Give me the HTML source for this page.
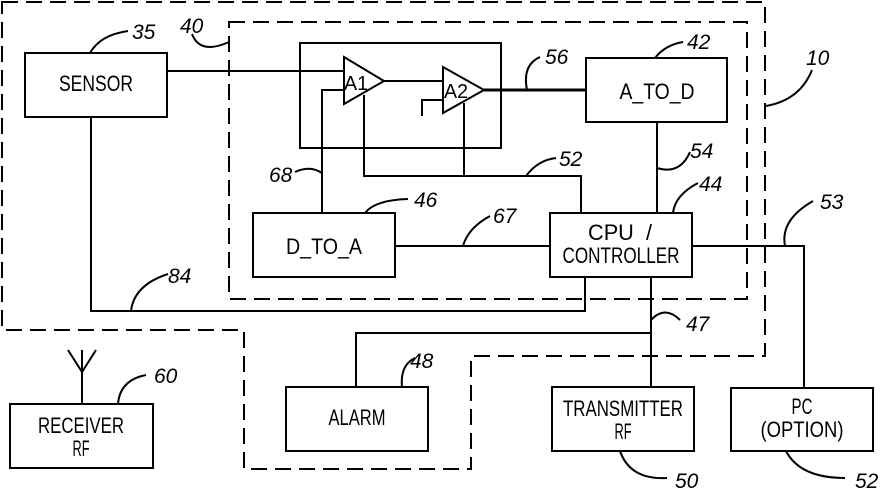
<!DOCTYPE html>
<html><head><meta charset="utf-8"><style>
body{margin:0;background:#fff}
svg{display:block}
</style></head><body>
<svg width="882" height="488" viewBox="0 0 882 488" xmlns="http://www.w3.org/2000/svg">
<g fill="none" stroke="#000" stroke-width="2">
<path d="M2 2 H765 V356 H471 V469 H244 V330 H2 Z" stroke-dasharray="16 8"/>
<path d="M229 22 H747 V299 H229 Z" stroke-dasharray="16 8"/>
<rect x="25" y="53" width="142" height="64"/>
<rect x="300" y="43" width="201" height="105"/>
<rect x="586" y="58" width="141" height="64"/>
<rect x="253" y="213" width="142" height="64"/>
<rect x="550" y="213" width="142" height="64"/>
<rect x="286" y="387" width="142" height="64"/>
<rect x="552" y="387" width="142" height="64"/>
<rect x="731" y="388" width="142" height="63"/>
<rect x="10" y="404" width="143" height="64"/>
<path d="M344 57 L384 81 L344 104 Z"/>
<path d="M443 67 L484 90 L443 113 Z"/>
<path d="M167 71 H344"/>
<path d="M384 81 H443"/>
<path d="M422 116 V100 H443"/>
<path d="M484 90 H586" stroke-width="3"/>
<path d="M344 90 H322 V213"/>
<path d="M364 95 V176 H581 V213"/>
<path d="M464 103 V176"/>
<path d="M657 122 V213"/>
<path d="M395 246 H550"/>
<path d="M692 246 H804 V388"/>
<path d="M91 117 V311 H585 V277"/>
<path d="M651 277 V387"/>
<path d="M651 333 H356 V387"/>
<path d="M82 350 V404 M68 350 L82 372 L96 350"/>
<path d="M90 53 Q100 35 128 31"/>
<path d="M229 42 Q200 55 192 34"/>
<path d="M527 90 Q522 65 540 57"/>
<path d="M655 58 Q665 45 683 42"/>
<path d="M766 106 Q800 100 812 70"/>
<path d="M322 173 Q310 165 295 172"/>
<path d="M365 213 Q375 200 408 199"/>
<path d="M526 176 Q538 160 556 158"/>
<path d="M657 168 Q680 175 690 152"/>
<path d="M673 213 Q675 195 698 183"/>
<path d="M463 246 Q468 228 490 216"/>
<path d="M785 246 Q780 220 813 201"/>
<path d="M131 311 Q134 285 168 274"/>
<path d="M651 320 Q665 305 680 320"/>
<path d="M402 387 Q400 365 415 358"/>
<path d="M118 404 Q120 380 146 375"/>
<path d="M620 451 Q630 480 667 478"/>
<path d="M786 451 Q800 478 845 478"/>
</g>
<g font-family="Liberation Sans, sans-serif" font-size="22" text-anchor="middle" fill="#000">
<text x="96" y="91" style="font-size:22px" textLength="74" lengthAdjust="spacingAndGlyphs">SENSOR</text>
<text x="356" y="90" style="font-size:20px" textLength="24" lengthAdjust="spacingAndGlyphs">A1</text>
<text x="456" y="98" style="font-size:20px" textLength="24" lengthAdjust="spacingAndGlyphs">A2</text>
<text x="657" y="99" style="font-size:22px" textLength="75" lengthAdjust="spacingAndGlyphs">A_TO_D</text>
<text x="324" y="254" style="font-size:22px" textLength="76" lengthAdjust="spacingAndGlyphs">D_TO_A</text>
<text x="620" y="240" style="font-size:22px" textLength="64" lengthAdjust="spacingAndGlyphs" xml:space="preserve">CPU  /</text>
<text x="621" y="263" style="font-size:22px" textLength="117" lengthAdjust="spacingAndGlyphs">CONTROLLER</text>
<text x="357" y="425" style="font-size:22px" textLength="57" lengthAdjust="spacingAndGlyphs">ALARM</text>
<text x="623" y="416" style="font-size:22px" textLength="120" lengthAdjust="spacingAndGlyphs">TRANSMITTER</text>
<text x="623" y="439" style="font-size:22px" textLength="17" lengthAdjust="spacingAndGlyphs">RF</text>
<text x="802" y="414" style="font-size:22px" textLength="21" lengthAdjust="spacingAndGlyphs">PC</text>
<text x="802" y="437" style="font-size:22px" textLength="83" lengthAdjust="spacingAndGlyphs">(OPTION)</text>
<text x="81" y="433" style="font-size:22px" textLength="86" lengthAdjust="spacingAndGlyphs">RECEIVER</text>
<text x="81" y="456" style="font-size:22px" textLength="17" lengthAdjust="spacingAndGlyphs">RF</text>
</g>
<g font-family="Liberation Sans, sans-serif" font-style="italic" fill="#000" style="font-size:21px">
<text x="132" y="39" style="font-size:21px">35</text>
<text x="180" y="33" style="font-size:21px">40</text>
<text x="545" y="64" style="font-size:21px">56</text>
<text x="687" y="49" style="font-size:21px">42</text>
<text x="806" y="65" style="font-size:21px">10</text>
<text x="269" y="182" style="font-size:21px">68</text>
<text x="414" y="207" style="font-size:21px">46</text>
<text x="559" y="166" style="font-size:21px">52</text>
<text x="690" y="158" style="font-size:21px">54</text>
<text x="699" y="191" style="font-size:21px">44</text>
<text x="493" y="223" style="font-size:21px">67</text>
<text x="820" y="209" style="font-size:21px">53</text>
<text x="168" y="283" style="font-size:21px">84</text>
<text x="686" y="331" style="font-size:21px">47</text>
<text x="410" y="368" style="font-size:21px">48</text>
<text x="154" y="383" style="font-size:21px">60</text>
<text x="675" y="488" style="font-size:21px">50</text>
<text x="855" y="488" style="font-size:21px">52</text>
</g>
</svg>
</body></html>
